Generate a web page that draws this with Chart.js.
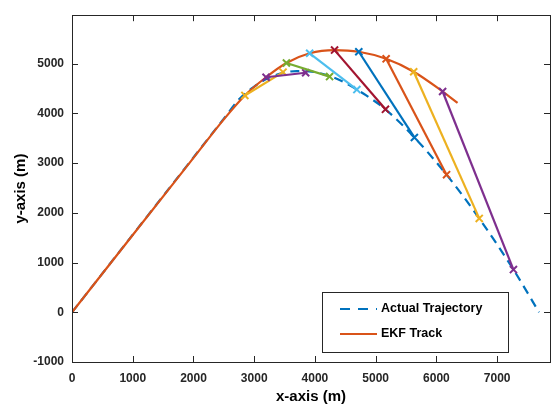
<!DOCTYPE html>
<html>
<head>
<meta charset="utf-8">
<script src="https://cdn.jsdelivr.net/npm/chart.js@4.4.1/dist/chart.umd.min.js"></script>
<style>
  html, body { margin: 0; padding: 0; background: #fff; }
  canvas { display: block; }
</style>
</head>
<body>
<canvas id="traj-chart" width="557" height="413"></canvas>
<script>
// values
const xTicks = [0, 1000, 2000, 3000, 4000, 5000, 6000, 7000];
const yTicks = [-1000, 0, 1000, 2000, 3000, 4000, 5000];

const actualX = [0, 1000, 2000, 2500, 2763, 3000, 3200, 3475, 3700, 3900, 4240, 4460, 4690, 4844, 5161, 5637, 6167, 6705, 7268, 7690];
const actualY = [0, 1560, 3115, 3895, 4300, 4540, 4690, 4815, 4850, 4845, 4750, 4640, 4479, 4361, 4082, 3516, 2767, 1888, 859, 0];

const ekfX = [0, 1000, 2000, 2500, 2846, 3195, 3530, 3913, 4323, 4722, 5172, 5626, 6102, 6348];
const ekfY = [0, 1555, 3105, 3880, 4361, 4727, 5014, 5209, 5273, 5240, 5098, 4838, 4440, 4213];

// prediction segments: start on the EKF track, end on the trajectory
const predX1 = [2846, 3195, 3530, 3913, 4323, 4722, 5172, 5626, 6102];
const predY1 = [4361, 4727, 5014, 5209, 5273, 5240, 5098, 4838, 4440];
const predX2 = [3475, 3847, 4241, 4690, 5161, 5637, 6167, 6705, 7268];
const predY2 = [4830, 4818, 4740, 4479, 4082, 3516, 2767, 1888, 859];

const matlabColors = ["#0072BD", "#D95319", "#EDB120", "#7E2F8E", "#77AC30", "#4DBEEE", "#A2142F"];
const FONT = "'Liberation Sans', Arial, Helvetica, sans-serif";
const AXIS = "#262626";

const toPts = (xs, ys) => xs.map((x, i) => ({ x, y: ys[i] }));

const datasets = [
  {
    label: "Actual Trajectory",
    data: toPts(actualX, actualY),
    borderColor: matlabColors[0],
    borderWidth: 2.2,
    borderDash: [9, 6],
    pointRadius: 0,
    cubicInterpolationMode: "monotone",
    order: 100,
  },
  {
    label: "EKF Track",
    data: toPts(ekfX, ekfY),
    borderColor: matlabColors[1],
    borderWidth: 2.2,
    pointRadius: 0,
    cubicInterpolationMode: "monotone",
    order: 99,
  },
];

predX1.forEach((x1, i) => {
  const c = matlabColors[(i + 2) % matlabColors.length];
  datasets.push({
    label: "pred " + (i + 1),
    data: [{ x: x1, y: predY1[i] }, { x: predX2[i], y: predY2[i] }],
    borderColor: c,
    backgroundColor: c,
    borderWidth: 2.2,
    pointStyle: "crossRot",
    pointRadius: 5,
    pointBorderColor: c,
    pointBorderWidth: 2,
    order: 50 - i,
  });
});

// box + inward ticks on all four sides, MATLAB style
const boxTicks = {
  id: "boxTicks",
  afterDraw(chart) {
    const { ctx, chartArea: a, scales } = chart;
    const len = 6;
    ctx.save();
    ctx.strokeStyle = AXIS;
    ctx.lineWidth = 1;
    ctx.strokeRect(Math.round(a.left) + 0.5, Math.round(a.top) + 0.5,
      Math.round(a.right - a.left), Math.round(a.bottom - a.top));
    ctx.beginPath();
    xTicks.forEach((v) => {
      const px = Math.round(scales.x.getPixelForValue(v)) + 0.5;
      ctx.moveTo(px, a.bottom); ctx.lineTo(px, a.bottom - len);
      ctx.moveTo(px, a.top); ctx.lineTo(px, a.top + len);
    });
    yTicks.forEach((v) => {
      const py = Math.round(scales.y.getPixelForValue(v)) + 0.5;
      ctx.moveTo(a.left, py); ctx.lineTo(a.left + len, py);
      ctx.moveTo(a.right, py); ctx.lineTo(a.right - len, py);
    });
    ctx.stroke();
    ctx.restore();
  },
};

// legend box in the lower right of the axes
const boxLegend = {
  id: "boxLegend",
  afterDraw(chart) {
    const { ctx, chartArea: a } = chart;
    const right = a.right - 42, bottom = a.bottom - 10;
    const w = 186, h = 60;
    const left = right - w, top = bottom - h;
    ctx.save();
    ctx.fillStyle = "#fff";
    ctx.fillRect(left, top, w, h);
    ctx.strokeStyle = AXIS;
    ctx.lineWidth = 1;
    ctx.strokeRect(Math.round(left) + 0.5, Math.round(top) + 0.5, w, h);

    const rows = [
      { text: "Actual Trajectory", color: matlabColors[0], dash: [10, 8] },
      { text: "EKF Track", color: matlabColors[1], dash: [] },
    ];
    rows.forEach((r, i) => {
      const y = top + 17 + i * 25;
      ctx.beginPath();
      ctx.setLineDash(r.dash);
      ctx.strokeStyle = r.color;
      ctx.lineWidth = 2.2;
      ctx.moveTo(left + 18, y);
      ctx.lineTo(left + 55, y);
      ctx.stroke();
      ctx.setLineDash([]);
      ctx.fillStyle = "#000";
      ctx.font = "bold 12.5px " + FONT;
      ctx.textBaseline = "middle";
      ctx.fillText(r.text, left + 59, y);
    });
    ctx.restore();
  },
};

new Chart(document.getElementById("traj-chart").getContext("2d"), {
  type: "line",
  data: { datasets },
  plugins: [boxTicks, boxLegend],
  options: {
    responsive: false,
    animation: false,
    layout: { padding: { top: 4, right: 7, left: 0, bottom: 0 } },
    plugins: {
      legend: { display: false },
      tooltip: { enabled: false },
    },
    scales: {
      x: {
        type: "linear",
        min: 0,
        max: 7870,
        afterBuildTicks: (s) => { s.ticks = xTicks.map((v) => ({ value: v })); },
        afterFit: (s) => { s.height = 51; },
        grid: { display: false, drawTicks: false },
        border: { display: false },
        ticks: {
          color: AXIS,
          padding: 9,
          maxRotation: 0,
          callback: (v) => String(v),
          font: { family: FONT, size: 12, weight: "bold" },
        },
        title: {
          display: true,
          text: "x-axis (m)",
          color: "#000",
          padding: { top: 0, bottom: 7 },
          font: { family: FONT, size: 15, weight: "bold" },
        },
      },
      y: {
        type: "linear",
        min: -1000,
        max: 5975,
        afterBuildTicks: (s) => { s.ticks = yTicks.map((v) => ({ value: v })); },
        afterFit: (s) => { s.width = 72; },
        grid: { display: false, drawTicks: false },
        border: { display: false },
        ticks: {
          color: AXIS,
          padding: 8,
          callback: (v) => String(v),
          font: { family: FONT, size: 12, weight: "bold" },
        },
        title: {
          display: true,
          text: "y-axis (m)",
          color: "#000",
          padding: { top: 12, bottom: 0 },
          font: { family: FONT, size: 15, weight: "bold" },
        },
      },
    },
  },
});
</script>
</body>
</html>
